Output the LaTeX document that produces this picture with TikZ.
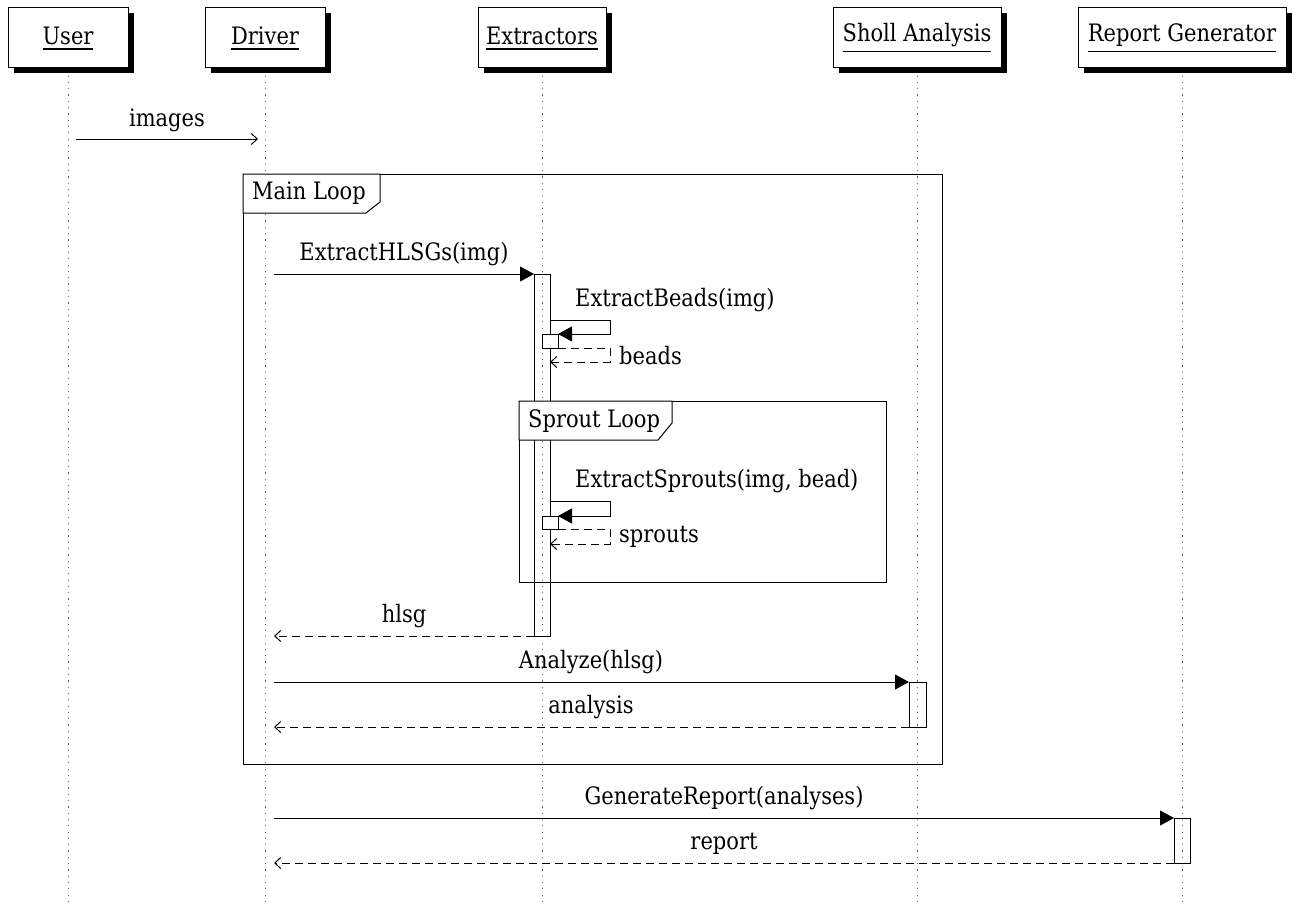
\documentclass[tikz,border=0pt]{standalone}
\usepackage{fontspec}
\setmainfont{DejaVu Serif}[FakeStretch=0.875]
\usetikzlibrary{arrows.meta,shadows}
\def\uln#1{\vtop{\hbox{\rule{0pt}{20pt}#1}\kern 4pt\hrule height 1.5pt}}
\begin{document}
\begin{tikzpicture}[x=1pt,y=-1pt,font=\fontsize{24}{28}\selectfont,
  head/.style={draw, fill=white, line width=1pt, minimum width=#1, minimum height=60pt, inner sep=0pt,
    drop shadow={shadow xshift=6pt, shadow yshift=-6pt, fill=black, opacity=1}},
  lifeline/.style={black!60, line width=1pt, dash pattern=on 1.2pt off 5.1pt},
  msg/.style={line width=1pt, -{Triangle[length=14pt,width=15pt]}},
  ret/.style={line width=1pt, dash pattern=on 8pt off 5pt, -{Straight Barb[length=6pt,width=11pt,line width=1pt]}},
  async/.style={line width=1pt, -{Straight Barb[length=6pt,width=11pt,line width=1pt]}},
  bar/.style={draw, line width=1pt},
  nested/.style={draw, fill=white, line width=1pt},
  frame/.style={draw, line width=1pt},
  tab/.style={draw, fill=white, line width=1pt},
  lbl/.style={anchor=base, inner sep=0pt},
  lblw/.style={anchor=base west, inner sep=0pt}]
\useasboundingbox (0,0) rectangle (1298,905);
\coordinate (bottom) at (0,905);

% heads
\node[head=120pt] (user) at (68,37) {\uln{User}};
\node[head=120pt] (driver) at (265,37) {\uln{Driver}};
\node[head=128pt] (extr) at (542,37) {\uln{Extractors}};
\node[head=168pt] (sholl) at (917,37) {\uln{Sholl Analysis}};
\node[head=208pt] (report) at (1182,37) {\uln{Report Generator}};

% lifelines
\foreach \n in {user,driver,extr,sholl,report}{
  \draw[lifeline] ([yshift=-8pt]\n.south) -- (\n.south |- bottom);
}

% activation bars
\coordinate (eb1) at (534,274); \coordinate (eb2) at (550,636);
\draw[bar] (eb1) rectangle (eb2);
\coordinate (sb1) at (909,682); \coordinate (sb2) at (926,727);
\draw[bar] (sb1) rectangle (sb2);
\coordinate (rb1) at (1174,818); \coordinate (rb2) at (1190,863);
\draw[bar] (rb1) rectangle (rb2);

% Main Loop frame
\coordinate (ml1) at (243,174); \coordinate (ml2) at (942,764);
\draw[frame] (ml1) rectangle (ml2);
\coordinate (mt1) at (380,174); \coordinate (mt2) at (380,202);
\coordinate (mt3) at (366,213); \coordinate (mt4) at (243,213);
\draw[tab] (ml1) -- (mt1) -- (mt2) -- (mt3) -- (mt4) -- cycle;
\node[lblw] (mltext) at (252,199) {Main Loop};

% Sprout Loop frame
\coordinate (sl1) at (519,401); \coordinate (sl2) at (886,582);
\draw[frame] (sl1) rectangle (sl2);
\coordinate (st1) at (672,401); \coordinate (st2) at (672,423);
\coordinate (st3) at (658,440); \coordinate (st4) at (519,440);
\draw[tab] (sl1) -- (st1) -- (st2) -- (st3) -- (st4) -- cycle;
\node[lblw] (sltext) at (528,427) {Sprout Loop};

% images
\coordinate (im1) at (76,139); \coordinate (im2) at (258,139);
\draw[async] (im1) -- (im2);
\node[lbl] (imlbl) at (167,126) {images};

% ExtractHLSGs
\coordinate (eh1) at (274,274);
\draw[msg] (eh1) -- (eb1);
\node[lbl] (ehlbl) at (404,260) {ExtractHLSGs(img)};

% ExtractBeads self call
\coordinate (bc1) at (550,320); \coordinate (bc2) at (610,320);
\coordinate (bc3) at (610,334); \coordinate (bc4) at (558,334);
\coordinate (bn1) at (542,334); \coordinate (bn2) at (558,348);
\draw[nested] (bn1) rectangle (bn2);
\draw[msg] (bc1) -- (bc2) -- (bc3) -- (bc4);
\coordinate (br1) at (558,348); \coordinate (br2) at (610,348);
\coordinate (br3) at (610,362); \coordinate (br4) at (550,362);
\draw[ret] (br1) -- (br2) -- (br3) -- (br4);
\node[lblw] (bclbl) at (575,306) {ExtractBeads(img)};
\node[lblw] (brlbl) at (619,364) {beads};

% ExtractSprouts self call
\coordinate (sc1) at (550,501); \coordinate (sc2) at (610,501);
\coordinate (sc3) at (610,516); \coordinate (sc4) at (558,516);
\coordinate (sn1) at (542,516); \coordinate (sn2) at (558,529);
\draw[nested] (sn1) rectangle (sn2);
\draw[msg] (sc1) -- (sc2) -- (sc3) -- (sc4);
\coordinate (sr1) at (558,529); \coordinate (sr2) at (610,529);
\coordinate (sr3) at (610,544); \coordinate (sr4) at (550,544);
\draw[ret] (sr1) -- (sr2) -- (sr3) -- (sr4);
\node[lblw] (sclbl) at (575,487) {ExtractSprouts(img, bead)};
\node[lblw] (srlbl) at (619,542) {sprouts};

% hlsg return
\coordinate (hr1) at (534,636); \coordinate (hr2) at (274,636);
\draw[ret] (hr1) -- (hr2);
\node[lbl] (hrlbl) at (404,622) {hlsg};

% Analyze
\coordinate (an1) at (274,682);
\draw[msg] (an1) -- (sb1);
\node[lbl] (anlbl) at (591,668) {Analyze(hlsg)};
\coordinate (as1) at (909,727); \coordinate (as2) at (274,727);
\draw[ret] (as1) -- (as2);
\node[lbl] (aslbl) at (591,713) {analysis};

% GenerateReport
\coordinate (gr1) at (274,818);
\draw[msg] (gr1) -- (rb1);
\node[lbl] (grlbl) at (724,804) {GenerateReport(analyses)};
\coordinate (rp1) at (1174,863); \coordinate (rp2) at (274,863);
\draw[ret] (rp1) -- (rp2);
\node[lbl] (rplbl) at (724,849) {report};
\end{tikzpicture}
\end{document}
